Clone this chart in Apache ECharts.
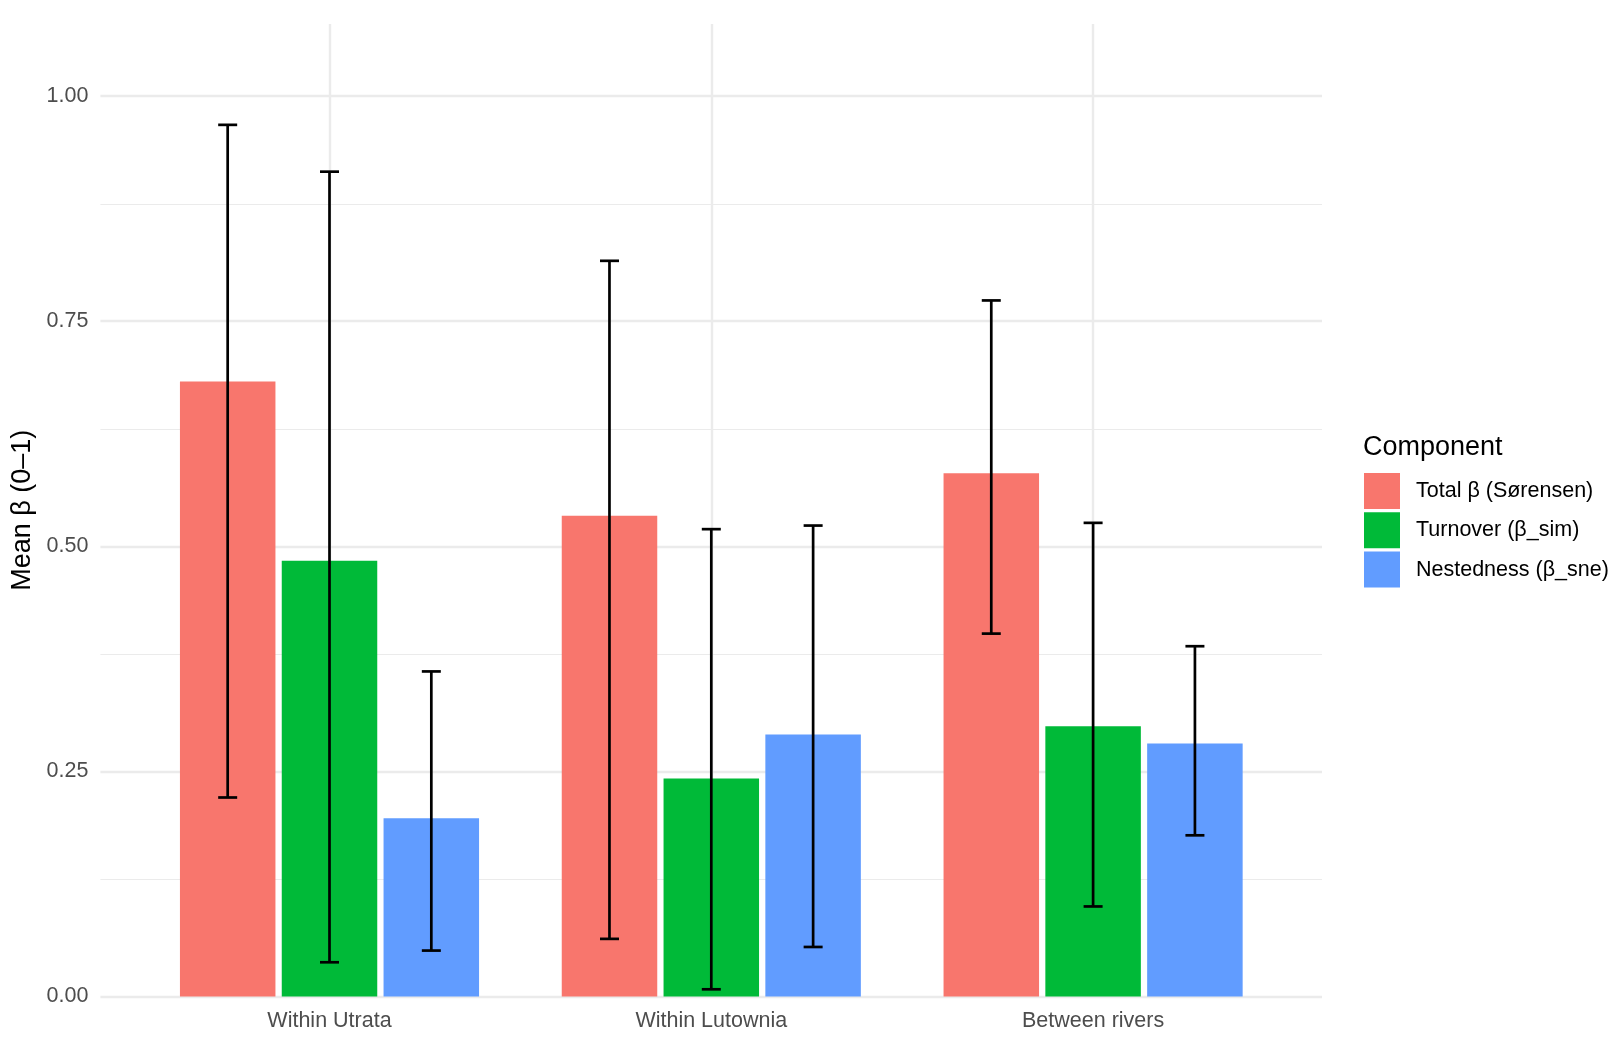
<!DOCTYPE html>
<html>
<head>
<meta charset="utf-8">
<title>Mean beta by component</title>
<script src="https://cdn.jsdelivr.net/npm/echarts@6/dist/echarts.min.js"></script>
<style>
    html, body { margin: 0; padding: 0; background: #ffffff; }
    #chart { width: 1624px; height: 1049px; }
</style>
</head>
<body>
<div id="chart"></div>
<script>
// ============================= 数据 ===============================

const categories = ['Within Utrata', 'Within Lutownia', 'Between rivers'];
const components = ['Total β (Sørensen)', 'Turnover (β_sim)', 'Nestedness (β_sne)'];

const totalMean = [0.683, 0.534, 0.581];
const totalLow  = [0.221, 0.064, 0.403];
const totalHigh = [0.968, 0.817, 0.773];

const turnMean = [0.484, 0.242, 0.300];
const turnLow  = [0.038, 0.008, 0.100];
const turnHigh = [0.916, 0.519, 0.526];

const nestMean = [0.198, 0.291, 0.281];
const nestLow  = [0.051, 0.055, 0.179];
const nestHigh = [0.361, 0.523, 0.389];

const majorTicks = [0, 0.25, 0.5, 0.75, 1.0];
const minorTicks = [0.125, 0.375, 0.625, 0.875];

// ============================= 样式 ===============================

const colors = ['#F8766D', '#00BA38', '#619CFF'];
const FONT = 'Liberation Sans, Arial, sans-serif';
const GRID_COLOR = '#EBEBEB';
const Y_MAX = 1.08;
const TOP = 24, BOTTOM = 52.5;
const BAR_W = 95.5;
const DODGE = 0.2667;   // 每个分组槽位占类目宽度的比例

const means = [totalMean, turnMean, nestMean];
const lows = [totalLow, turnLow, nestLow];
const highs = [totalHigh, turnHigh, nestHigh];

// 误差线数据: [类目序号, 下限, 上限, 系列序号]
let errData = [];
for (let s = 0; s < 3; s++) {
    for (let i = 0; i < categories.length; i++) {
        errData.push([i, lows[s][i], highs[s][i], s]);
    }
}

function renderErrorBar(params, api) {
    let lo = api.coord([api.value(0), api.value(1)]);
    let hi = api.coord([api.value(0), api.value(2)]);
    let band = api.size([1, 0])[0];
    let x = lo[0] + (api.value(3) - 1) * band * DODGE;
    let cap = 9.5;
    let style = { stroke: '#000000', lineWidth: 2.7 };
    return {
        type: 'group',
        children: [
            { type: 'line', shape: { x1: x, y1: lo[1], x2: x, y2: hi[1] }, style: style },
            { type: 'line', shape: { x1: x - cap, y1: lo[1], x2: x + cap, y2: lo[1] }, style: style },
            { type: 'line', shape: { x1: x - cap, y1: hi[1], x2: x + cap, y2: hi[1] }, style: style }
        ]
    };
}

let hLines = majorTicks.map(v => ({ yAxis: v, lineStyle: { width: 2.4 } }))
    .concat(minorTicks.map(v => ({ yAxis: v, lineStyle: { width: 1.2 } })));
let vLines = categories.map(c => ({ xAxis: c, lineStyle: { width: 2.4 } }));

let barSeries = components.map((name, s) => ({
    name: name,
    type: 'bar',
    xAxisIndex: 1,
    yAxisIndex: 1,
    barWidth: BAR_W,
    barGap: '6.6%',
    z: 2,
    itemStyle: { color: colors[s] },
    data: means[s]
}));

function gridLineSeries(axisIndex, lines) {
    return {
        type: 'line',
        xAxisIndex: axisIndex,
        yAxisIndex: axisIndex,
        data: [],
        z: 0,
        silent: true,
        markLine: {
            z: 0,
            silent: true,
            animation: false,
            symbol: 'none',
            label: { show: false },
            emphasis: { disabled: true },
            lineStyle: { color: GRID_COLOR, type: 'solid' },
            data: lines
        }
    };
}

let option = {
    animation: false,
    backgroundColor: '#ffffff',
    textStyle: { fontFamily: FONT },
    grid: [
        { left: 100.4, right: 302, top: TOP, bottom: BOTTOM },   // 背景网格线
        { left: 138.6, right: 340, top: TOP, bottom: BOTTOM }    // 柱子
    ],
    xAxis: [
        { type: 'value', gridIndex: 0, min: 0, max: 1, show: false },
        {
            type: 'category',
            gridIndex: 1,
            data: categories,
            axisLine: { show: false },
            axisTick: { show: false },
            splitLine: { show: false },
            axisLabel: { color: '#4D4D4D', fontSize: 21.5, fontFamily: FONT, margin: 14 }
        }
    ],
    yAxis: [
        {
            type: 'value',
            gridIndex: 0,
            min: 0,
            max: Y_MAX,
            interval: 0.25,
            name: 'Mean β (0–1)',
            nameLocation: 'middle',
            nameGap: 62,
            nameTextStyle: { color: '#000000', fontSize: 27, fontFamily: FONT },
            axisLine: { show: false },
            axisTick: { show: false },
            splitLine: { show: false },
            axisLabel: {
                color: '#4D4D4D',
                fontSize: 21.5,
                fontFamily: FONT,
                margin: 12,
                formatter: v => (Math.abs(v / 0.25 - Math.round(v / 0.25)) < 1e-6 ? v.toFixed(2) : '')
            }
        },
        { type: 'value', gridIndex: 1, min: 0, max: Y_MAX, show: false }
    ],
    legend: {
        orient: 'vertical',
        left: 1359,
        top: 468,
        icon: 'rect',
        itemWidth: 36,
        itemHeight: 36,
        itemGap: 3.3,
        selectedMode: false,
        data: components,
        textStyle: { color: '#000000', fontSize: 21.5, fontFamily: FONT, padding: [0, 0, 0, 11] }
    },
    graphic: [{
        type: 'text',
        left: 1363,
        top: 434,
        style: { text: 'Component', fill: '#000000', fontSize: 27, fontFamily: FONT }
    }],
    series: [
        gridLineSeries(0, hLines),
        gridLineSeries(1, vLines)
    ].concat(barSeries).concat([{
        type: 'custom',
        xAxisIndex: 1,
        yAxisIndex: 1,
        z: 3,
        renderItem: renderErrorBar,
        encode: { x: 0, y: [1, 2] },
        data: errData
    }])
};

echarts.init(document.getElementById('chart')).setOption(option);
</script>
</body>
</html>
